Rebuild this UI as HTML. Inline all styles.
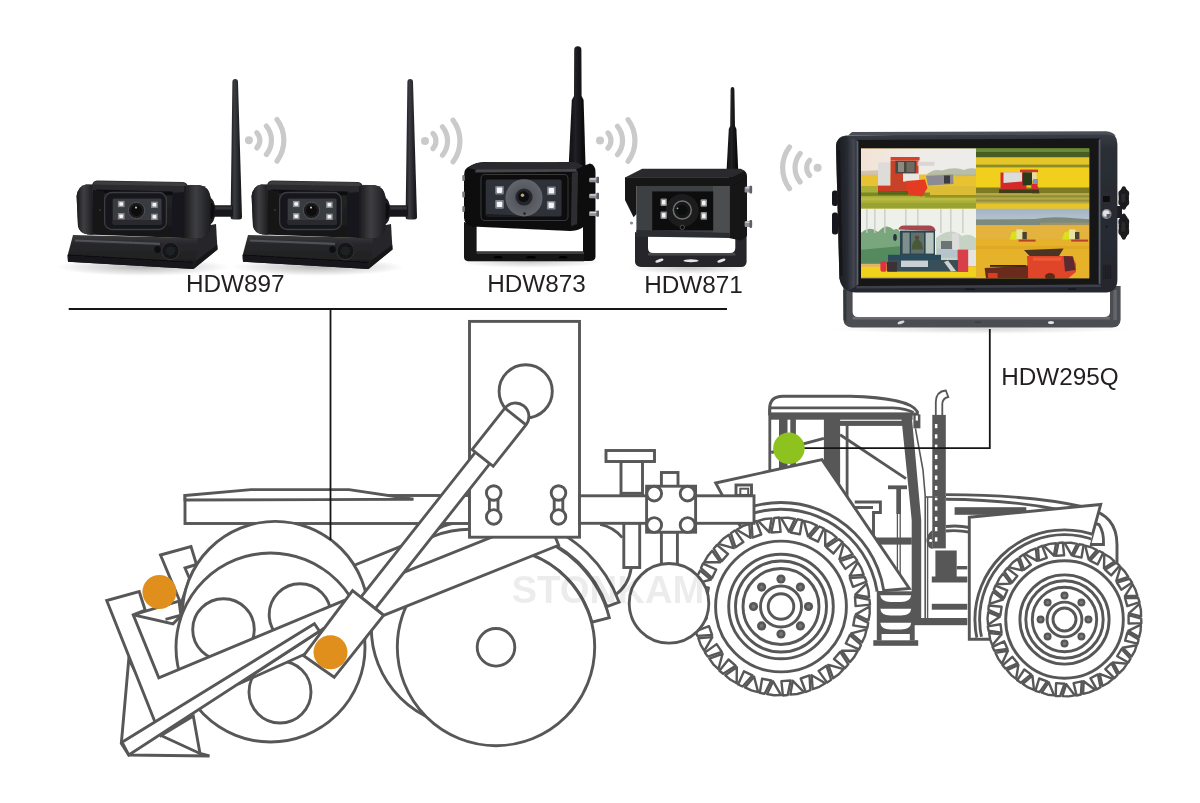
<!DOCTYPE html>
<html><head><meta charset="utf-8"><title>Wireless camera system</title>
<style>
html,body{margin:0;padding:0;background:#fff;}
body{width:1200px;height:803px;overflow:hidden;position:relative;font-family:"Liberation Sans",sans-serif;}
svg{position:absolute;left:0;top:0;display:block}
text{font-family:"Liberation Sans",sans-serif;}
.ln{fill:#fff;stroke:#575757;stroke-width:2.9;stroke-linejoin:miter;stroke-linecap:butt}
.lo{fill:none;stroke:#575757;stroke-width:2.9;stroke-linejoin:miter;stroke-linecap:butt}
.dk{fill:#575757;stroke:none}
.bk{fill:none;stroke:#151515;stroke-width:1.8}
</style></head>
<body>
<svg width="1200" height="803" viewBox="0 0 1200 803">
<!-- defs -->
<defs>
<linearGradient id="gAnt" x1="0" x2="1" y1="0" y2="0"><stop offset="0" stop-color="#1d1d20"/><stop offset="0.35" stop-color="#3a3b40"/><stop offset="0.6" stop-color="#2a2a2e"/><stop offset="1" stop-color="#121214"/></linearGradient>
<linearGradient id="gAnt2" x1="0" x2="1" y1="0" y2="0"><stop offset="0" stop-color="#0c0c0d"/><stop offset="0.4" stop-color="#222224"/><stop offset="1" stop-color="#050506"/></linearGradient>
<linearGradient id="gBarrel" x1="0" x2="0" y1="0" y2="1"><stop offset="0" stop-color="#37383b"/><stop offset="0.18" stop-color="#232426"/><stop offset="0.7" stop-color="#1b1b1d"/><stop offset="1" stop-color="#121213"/></linearGradient>
<linearGradient id="gBase" x1="0" x2="0" y1="0" y2="1"><stop offset="0" stop-color="#3a3b3e"/><stop offset="0.25" stop-color="#28292b"/><stop offset="1" stop-color="#1a1a1c"/></linearGradient>
<linearGradient id="gCapL" x1="0" x2="1" y1="0" y2="0"><stop offset="0" stop-color="#1a1a1c"/><stop offset="0.45" stop-color="#3e3f42"/><stop offset="1" stop-color="#1d1d1f"/></linearGradient>
<linearGradient id="gMonBody" x1="0" x2="0" y1="0" y2="1"><stop offset="0" stop-color="#3a3e46"/><stop offset="0.1" stop-color="#2b2e35"/><stop offset="1" stop-color="#25272d"/></linearGradient>
<linearGradient id="gMonSide" x1="0" x2="1" y1="0" y2="0"><stop offset="0" stop-color="#15161b"/><stop offset="0.55" stop-color="#272a31"/><stop offset="0.88" stop-color="#474b56"/><stop offset="1" stop-color="#30333b"/></linearGradient>
<linearGradient id="gBrk" x1="0" x2="0" y1="0" y2="1"><stop offset="0" stop-color="#5a5c62"/><stop offset="1" stop-color="#3c3e44"/></linearGradient>
<radialGradient id="gLens873" cx="0.5" cy="0.5" r="0.5"><stop offset="0" stop-color="#3a3c42"/><stop offset="0.5" stop-color="#55585f"/><stop offset="1" stop-color="#62656c"/></radialGradient>
<radialGradient id="gShadow" cx="0.5" cy="0.5" r="0.5"><stop offset="0" stop-color="#000" stop-opacity="0.28"/><stop offset="1" stop-color="#000" stop-opacity="0"/></radialGradient>
<filter id="b1" x="-20%" y="-20%" width="140%" height="140%"><feGaussianBlur stdDeviation="0.7"/></filter>
<filter id="b2" x="-20%" y="-20%" width="140%" height="140%"><feGaussianBlur stdDeviation="1.5"/></filter>
<filter id="b3" x="-30%" y="-30%" width="160%" height="160%"><feGaussianBlur stdDeviation="3"/></filter>
<filter id="soft" x="-2%" y="-2%" width="104%" height="104%"><feGaussianBlur stdDeviation="0.45"/></filter>
</defs>
<!-- cams -->
<g filter="url(#soft)"><g id="cam897">
<ellipse cx="143" cy="267" rx="86" ry="9" fill="url(#gShadow)"/>
<path d="M232.4,82 Q232.4,79 235.2,79 Q238,79 238,82 L242,217 Q242,219.5 239,219.5 L233.5,219.5 Q230.5,219.5 230.6,217 Z" fill="url(#gAnt)"/>
<rect x="208" y="205.2" width="25" height="11.6" rx="2" fill="#19191b"/>
<rect x="214" y="206.5" width="18" height="3" fill="#3a3b3e" opacity="0.8"/>
<ellipse cx="209" cy="211" rx="6.5" ry="13.5" fill="#1a1a1c"/>
<ellipse cx="210.5" cy="211" rx="3.8" ry="8" fill="#0c0c0d"/>
<path d="M193.5,269 L217.5,249.5 L216,224 L196,228 Z" fill="#262729"/>
<path d="M193.5,269 L217.5,249.5 L217.3,245 L193.6,262.5 Z" fill="#141415"/>
<path d="M73,235 L198,238 L196,262 L193.5,269 L68,261.8 L67.6,255.5 Z" fill="url(#gBase)"/>
<path d="M67.6,255.2 L193.6,262.6 L193.5,269 L68,261.8 Z" fill="#19191b"/>
<path d="M67.8,255 L193.6,262.4" stroke="#0a0a0b" stroke-width="1" fill="none"/>
<path d="M75,240.5 L160,243.8" stroke="#5a5c60" stroke-width="2.2" fill="none" filter="url(#b1)" opacity="0.8"/>
<path d="M86,184.5 Q78,186 76.6,196 L78,226 Q79.5,233.5 88,234.5 L198,238.5 Q209.5,238 210.5,226 L210.5,197 Q209,186.5 199,185 Z" fill="url(#gBarrel)"/>
<path d="M97,180.6 Q93,181 92,185 L92.5,190 L186,192.5 L187.5,186 Q187,182.5 183,182 Z" fill="#2a2b2d"/>
<path d="M96,181.2 L184,182.6 L186,186 L93,184.5 Z" fill="#3c3d40" filter="url(#b1)"/>
<path d="M96,189.5 L173,191.5 L173,195.5 L97,193 Z" fill="#0f0f10"/>
<path d="M86,184.5 Q78,186 76.6,196 L78,226 Q79.5,233.5 88,234.5 L93,234.8 L92,184.8 Z" fill="url(#gCapL)"/>
<path d="M184,186 L199,185 Q209,186.5 210.5,197 L210.5,226 Q209.5,238 198,238.5 L184,238 Z" fill="url(#gCapL)"/>
<path d="M172,193 L184,192 L184,237 L172,236 Z" fill="#19191b"/>
<path d="M93,190 L104,191 L104,232 L93,233 Z" fill="#161617"/>
<rect x="104.6" y="192.5" width="61.8" height="37" rx="7.5" fill="#17171a" stroke="#3b3c40" stroke-width="1.3"/>
<rect x="112.6" y="198.6" width="49" height="25.8" rx="1.5" fill="#393a3f"/>
<rect x="112.6" y="220" width="49" height="4.4" fill="#2a2b2f"/>
<circle cx="136.5" cy="210.4" r="8.2" fill="#1c1c1f" stroke="#50525a" stroke-width="1"/>
<circle cx="136.5" cy="210.6" r="5.3" fill="#09090b"/>
<circle cx="136" cy="207.6" r="1.1" fill="#e2b0b0"/>
<rect x="117.9" y="200.9" width="6.6" height="6.2" fill="#8d8f94" filter="url(#b1)"/><rect x="119.3" y="202.3" width="3.8" height="3.4" rx="0.8" fill="#f4f4f4"/>
<rect x="117.9" y="213.1" width="6.6" height="6.2" fill="#8d8f94" filter="url(#b1)"/><rect x="119.3" y="214.5" width="3.8" height="3.4" rx="0.8" fill="#f4f4f4"/>
<rect x="151.1" y="201.7" width="6.6" height="6.2" fill="#8d8f94" filter="url(#b1)"/><rect x="152.5" y="203.1" width="3.8" height="3.4" rx="0.8" fill="#f4f4f4"/>
<rect x="151.1" y="213.7" width="6.6" height="6.2" fill="#8d8f94" filter="url(#b1)"/><rect x="152.5" y="215.1" width="3.8" height="3.4" rx="0.8" fill="#f4f4f4"/>
<circle cx="100" cy="210" r="0.9" fill="#3a3a3c"/>
<circle cx="157.5" cy="249.5" r="3.4" fill="#111113"/>
<circle cx="170.5" cy="251" r="8.6" fill="#121214" stroke="#2f3033" stroke-width="1.2"/>
<circle cx="170.5" cy="251" r="4.8" fill="#1f2022"/>
</g><use href="#cam897" x="175" y="0"/><g id="cam873">
<ellipse cx="530" cy="262" rx="72" ry="6" fill="url(#gShadow)" opacity="0.7"/>
<path d="M574.2,50 Q574.2,46.3 577.8,46.3 Q581.4,46.3 581.4,50 L581.6,96 L583.6,100 L585.6,168 L568.6,168 L571.8,100 L574,96 Z" fill="url(#gAnt2)"/>
<path d="M583,166 L590,163.5 Q595.5,165 595.5,172 L595.5,257 Q595,261 590,261 L583,261 Z" fill="#101011"/>
<path d="M464,222 L476.6,226 L476.6,251.5 L584,251.5 L584,261.2 L468,261.2 Q464,261 464,257 Z" fill="#151516"/>
<path d="M476.6,251.6 L584,251.6 L584,254 L476.6,254 Z" fill="#3c3d3f" filter="url(#b1)"/>
<ellipse cx="498.0" cy="257.4" rx="4.5" ry="1.4" fill="#040404"/>
<ellipse cx="531.0" cy="257.4" rx="5.0" ry="1.4" fill="#040404"/>
<ellipse cx="563.0" cy="257.4" rx="4.5" ry="1.4" fill="#040404"/>
<path d="M470,166 Q464,168 464,176 L464,218 Q464.5,225 472,226.5 L570,231 Q584,230.5 586,222 L588,172 Q587,164 580,163.2 L484,162 Q474,163 470,166 Z" fill="#0e0e0f"/>
<path d="M482,162.3 L571,162 Q580,162.5 583,166 L575,170 L478,170.5 L468.5,168 Q474,163 482,162.3 Z" fill="#2c2c2e"/>
<path d="M476,169.6 L576,169 L577,171.8 L475,172.4 Z" fill="#454648" filter="url(#b1)"/>
<rect x="481" y="174.5" width="87" height="46" rx="4" fill="#0b0b0c" stroke="#37383b" stroke-width="1.1"/>
<rect x="485.6" y="179.6" width="76" height="37" rx="2" fill="#2d3138"/>
<path d="M485.6,214 L561.6,217.5 L561.6,216.6 Q561.6,216.6 561.6,216.6 L485.6,216.6 Z" fill="#1a1c20"/>
<circle cx="524" cy="197.8" r="18.6" fill="url(#gLens873)"/>
<path d="M505.6,197.8 A18.6,18.6 0 0 0 542.6,197.8 L542.6,216.6 L505.6,216.6 Z" fill="#2d3138" opacity="0" />
<circle cx="524" cy="197" r="8.6" fill="#26282c"/>
<circle cx="523.6" cy="196.6" r="5.6" fill="#101113"/>
<circle cx="522.5" cy="195.3" r="1.7" fill="#c9a464" filter="url(#b1)"/>
<circle cx="524.5" cy="213.5" r="1.2" fill="#1c1d20"/>
<rect x="495.2" y="185.9" width="8.6" height="8.6" rx="1" fill="#7d828c" filter="url(#b1)"/>
<rect x="496.8" y="187.5" width="5.4" height="5.4" rx="0.8" fill="#f6f6f6"/>
<rect x="495.2" y="200.1" width="8.6" height="8.6" rx="1" fill="#7d828c" filter="url(#b1)"/>
<rect x="496.8" y="201.7" width="5.4" height="5.4" rx="0.8" fill="#f6f6f6"/>
<rect x="547.1" y="186.5" width="8.6" height="8.6" rx="1" fill="#7d828c" filter="url(#b1)"/>
<rect x="548.7" y="188.1" width="5.4" height="5.4" rx="0.8" fill="#f6f6f6"/>
<rect x="546.9" y="200.9" width="8.6" height="8.6" rx="1" fill="#7d828c" filter="url(#b1)"/>
<rect x="548.5" y="202.5" width="5.4" height="5.4" rx="0.8" fill="#f6f6f6"/>
<path d="M572,173 L578,171.5 L577,224 L571,226 Z" fill="#2e2f31" filter="url(#b1)"/>
<rect x="589.0" y="177.7" width="10.0" height="4.6" rx="1.2" fill="#8e9096"/><rect x="590.0" y="178.3" width="7.0" height="1.3" fill="#d9dade"/><rect x="596.4" y="176.8" width="2.6" height="6.4" rx="0.8" fill="#5e6066"/>
<rect x="589.0" y="193.7" width="10.0" height="4.6" rx="1.2" fill="#8e9096"/><rect x="590.0" y="194.3" width="7.0" height="1.3" fill="#d9dade"/><rect x="596.4" y="192.8" width="2.6" height="6.4" rx="0.8" fill="#5e6066"/>
<rect x="589.0" y="211.3" width="10.0" height="4.6" rx="1.2" fill="#8e9096"/><rect x="590.0" y="211.9" width="7.0" height="1.3" fill="#d9dade"/><rect x="596.4" y="210.4" width="2.6" height="6.4" rx="0.8" fill="#5e6066"/>
<rect x="462.3" y="175.0" width="2.6" height="6" rx="1" fill="#77797e"/>
<rect x="462.3" y="191.5" width="2.6" height="6" rx="1" fill="#77797e"/>
<rect x="462.3" y="206.0" width="2.6" height="6" rx="1" fill="#77797e"/>
</g><g id="cam871">
<ellipse cx="690" cy="268" rx="62" ry="6" fill="url(#gShadow)" opacity="0.8"/>
<path d="M730.6,90 Q730.6,87 732.5,87 Q734.4,87 734.4,90 L735,126 L736.4,129 L738.2,170 L726.6,170 L728.8,129 L730.2,126 Z" fill="url(#gAnt2)"/>
<path d="M635,232 L648,236 L648,248 Q648,253 653,253 L730,253 Q735.3,253 735.3,248 L735.3,236 L746.6,232 L746.6,262 Q746,267 741,267 L641,267 Q635.5,266.5 635,262 Z" fill="#26272c"/>
<path d="M648,253 L735.3,253 L735.3,255.4 L648,255.4 Z" fill="#44464c" filter="url(#b1)"/>
<ellipse cx="659.4" cy="260.6" rx="4.2" ry="1.5" fill="#e6e6e6" transform="rotate(-18 659.4 260.6)"/>
<ellipse cx="691" cy="260.8" rx="7.6" ry="1.5" fill="#e6e6e6"/>
<ellipse cx="721.4" cy="260.6" rx="4.2" ry="1.5" fill="#e6e6e6" transform="rotate(-18 721.4 260.6)"/>
<path d="M729,170.5 L742,169.5 Q746.8,171 747,176 L747,236 L741,240.5 L729,238 Z" fill="#131315"/>
<rect x="636.4" y="184" width="93.4" height="52.4" fill="#3e3f42"/>
<rect x="713" y="186" width="16.8" height="50" fill="#4c4d50"/>
<path d="M636.4,230 L729.8,233 L729.8,238 L636.4,236.4 Z" fill="#2c2d30"/>
<rect x="652.2" y="191.5" width="61" height="38.8" fill="#0a0a0b"/>
<circle cx="682.3" cy="210.4" r="16.5" fill="#1d1d1f"/>
<circle cx="682.3" cy="210.1" r="9" fill="#141416" stroke="#707276" stroke-width="1.5"/>
<circle cx="682.3" cy="210.1" r="5" fill="#0a0a0b"/>
<circle cx="677.5" cy="208.3" r="0.9" fill="#7fc08a"/>
<circle cx="682.3" cy="227.3" r="2.2" fill="#0c0c0d" stroke="#505256" stroke-width="0.9"/>
<rect x="660.5" y="198.5" width="6.4" height="7.6" rx="1" fill="#8b8d92" filter="url(#b1)"/>
<rect x="661.9" y="200.0" width="3.6" height="4.6" rx="0.8" fill="#f2f2f2"/>
<rect x="660.5" y="211.4" width="6.4" height="7.6" rx="1" fill="#8b8d92" filter="url(#b1)"/>
<rect x="661.9" y="212.9" width="3.6" height="4.6" rx="0.8" fill="#f2f2f2"/>
<rect x="700.6" y="199.2" width="6.4" height="7.6" rx="1" fill="#8b8d92" filter="url(#b1)"/>
<rect x="702.0" y="200.7" width="3.6" height="4.6" rx="0.8" fill="#f2f2f2"/>
<rect x="700.6" y="212.1" width="6.4" height="7.6" rx="1" fill="#8b8d92" filter="url(#b1)"/>
<rect x="702.0" y="213.6" width="3.6" height="4.6" rx="0.8" fill="#f2f2f2"/>
<path d="M625,177.4 L642.2,168.7 L741,168.7 L744,171.5 L732.6,177.4 Z" fill="#2b2c2f"/>
<path d="M625,177.2 L732.6,177.2 L744,171.5 L744,180 L732.6,186 L636.4,186 L636.4,214 L633.6,217.3 L625,200 Z" fill="#121214"/>
<rect x="744.6" y="186.6" width="7.5" height="6.0" rx="1.2" fill="#8e9096"/><rect x="745.6" y="187.2" width="4.5" height="1.3" fill="#d9dade"/><rect x="749.5" y="185.7" width="2.6" height="7.8" rx="0.8" fill="#5e6066"/>
<rect x="744.6" y="221.0" width="7.5" height="6.0" rx="1.2" fill="#8e9096"/><rect x="745.6" y="221.6" width="4.5" height="1.3" fill="#d9dade"/><rect x="749.5" y="220.1" width="2.6" height="7.8" rx="0.8" fill="#5e6066"/>
<circle cx="631.5" cy="223" r="1.6" fill="#8a8c90"/>
</g></g>
<!-- monitor -->
<defs>
<clipPath id="cq1"><rect x="861" y="148.6" width="115" height="60.2"/></clipPath>
<clipPath id="cq2"><rect x="976" y="148.6" width="113.2" height="60.2"/></clipPath>
<clipPath id="cq3"><rect x="861" y="208.8" width="115" height="68.8"/></clipPath>
<clipPath id="cq4"><rect x="976" y="208.8" width="113.2" height="69.4"/></clipPath>
<linearGradient id="q1sky" x1="0" x2="1" y1="0" y2="0"><stop offset="0" stop-color="#f3e2d4"/><stop offset="0.5" stop-color="#efece8"/><stop offset="1" stop-color="#ececea"/></linearGradient>
<linearGradient id="q4sky" x1="0" x2="0" y1="0" y2="1"><stop offset="0" stop-color="#9db2c6"/><stop offset="1" stop-color="#b6c0cc"/></linearGradient>
<filter id="pb" x="-5%" y="-5%" width="110%" height="110%"><feGaussianBlur stdDeviation="0.55"/></filter>
</defs>
<g filter="url(#soft)">
<ellipse cx="980" cy="329" rx="150" ry="5" fill="url(#gShadow)" opacity="0.55"/>
<path d="M843.3,280 L852.6,280 L852.6,312 Q852.8,317 858,317 L1104,317 Q1110,317 1110,312 L1110,286 L1120.6,286 L1120.6,320 Q1120,327.4 1112,327.6 L852,327.6 Q843.6,327 843.3,319 Z" fill="#4b4d53"/>
<path d="M852.6,317 L1110,317 L1110,319.6 L852.6,319.6 Z" fill="#6a6c72"/>
<rect x="1113.4" y="290" width="3.4" height="30" fill="#63656b"/>
<path d="M843.3,290 L846.4,290 L846.4,322 L843.8,320 Z" fill="#33353a"/>
<ellipse cx="901" cy="322.4" rx="3.6" ry="1.4" fill="#d8d8da" transform="rotate(-20 901 322.4)"/>
<ellipse cx="1051" cy="322.4" rx="3" ry="1.5" fill="#e4e4e6"/>
<rect x="975" y="321.6" width="6" height="1.2" fill="#37393e"/>
<ellipse cx="1123.8" cy="198.0" rx="5.2" ry="10.6" fill="#141416"/><ellipse cx="1127.0" cy="202.2" rx="2.2" ry="3.2" fill="#1b1b1e"/><ellipse cx="1123.8" cy="206.5" rx="2.2" ry="3.2" fill="#1b1b1e"/><ellipse cx="1120.6" cy="202.2" rx="2.2" ry="3.2" fill="#1b1b1e"/><ellipse cx="1120.6" cy="193.8" rx="2.2" ry="3.2" fill="#1b1b1e"/><ellipse cx="1123.8" cy="189.5" rx="2.2" ry="3.2" fill="#1b1b1e"/><ellipse cx="1127.0" cy="193.8" rx="2.2" ry="3.2" fill="#1b1b1e"/><ellipse cx="1123.3" cy="198.0" rx="2.3" ry="4.8" fill="#2a2a2e"/>
<ellipse cx="1123.8" cy="226.6" rx="5.2" ry="12.0" fill="#141416"/><ellipse cx="1127.0" cy="231.4" rx="2.2" ry="3.6" fill="#1b1b1e"/><ellipse cx="1123.8" cy="236.2" rx="2.2" ry="3.6" fill="#1b1b1e"/><ellipse cx="1120.6" cy="231.4" rx="2.2" ry="3.6" fill="#1b1b1e"/><ellipse cx="1120.6" cy="221.8" rx="2.2" ry="3.6" fill="#1b1b1e"/><ellipse cx="1123.8" cy="217.0" rx="2.2" ry="3.6" fill="#1b1b1e"/><ellipse cx="1127.0" cy="221.8" rx="2.2" ry="3.6" fill="#1b1b1e"/><ellipse cx="1123.3" cy="226.6" rx="2.3" ry="5.4" fill="#2a2a2e"/>
<rect x="1117" y="206" width="5" height="12" fill="#1c1c20"/>
<rect x="832" y="190.4" width="6" height="15.6" rx="2.5" fill="#17181c"/>
<rect x="832" y="212.6" width="6" height="22" rx="2.5" fill="#17181c"/>
<path d="M846,135.4 L1107,133 Q1117.4,133.4 1117.4,144 L1117.4,280 Q1117,292 1106,292.6 L856,292.6 Q842,292 839.4,278 L836,146 Q836.4,136 846,135.4 Z" fill="url(#gMonBody)"/>
<path d="M848,135.4 L852,132 L1106,131.2 Q1113,131.6 1115.6,136 L1107,134.6 Z" fill="#4c5058"/>
<path d="M846,136 L856.4,140 L856.4,286 L848,291 Q841,288 839.4,278 L836,146 Q836.4,137 846,136 Z" fill="url(#gMonSide)" opacity="0.9"/>
<path d="M837,150 L840,150 L842.6,276 L840,276 Z" fill="#0f1014" opacity="0.7"/>
<path d="M856.4,140 L1100.6,138.6 L1100.6,284.6 L856.4,286 Z" fill="#121318"/>
<path d="M856.4,140 L858.4,141.6 L858.4,284.4 L856.4,286 Z" fill="#5a5f6b"/>
<path d="M1098.6,140 L1100.6,138.6 L1100.6,284.6 L1098.6,283.4 Z" fill="#565b67"/>
<path d="M856.4,286 L1100.6,284.6 L1100.6,287 L856.4,288.4 Z" fill="#3c4048"/>
<rect x="861" y="148.6" width="228.2" height="129.6" fill="#e8c830"/>
<g clip-path="url(#cq1)"><g filter="url(#pb)"><rect x="858" y="146" width="120" height="66" fill="url(#q1sky)"/><rect x="858" y="174.5" width="120" height="20" fill="#e9c233"/><path d="M926,175.6 Q932,168.5 942,170.5 Q955,166.5 964,170 Q970,167 978,169 L978,176 L926,176.5 Z" fill="#a9b39b" opacity="0.8"/><path d="M861,171 L884,170 L884,175.6 L861,175.6 Z" fill="#c9b9a5" opacity="0.8"/><rect x="858" y="186" width="72" height="24" fill="#a9b036"/><rect x="925" y="196" width="55" height="14" fill="#a9b036"/><rect x="925" y="186" width="55" height="11" fill="#dcbc36"/><rect x="858" y="192.5" width="72" height="3.5" fill="#6f7d22" opacity="0.8"/><rect x="925" y="195" width="55" height="3" fill="#7f8a26" opacity="0.8"/><rect x="858" y="197.5" width="120" height="3" fill="#c2bf48" opacity="0.7"/><rect x="858" y="203" width="120" height="6" fill="#93a02f" opacity="0.8"/><rect x="878" y="162.4" width="12.5" height="23.6" fill="#dddcd8"/><rect x="878" y="185.6" width="30" height="5.6" fill="#cf3a20"/><rect x="890.5" y="160.5" width="28" height="31" fill="#c8432a"/><rect x="895.4" y="160.8" width="20.6" height="12.6" fill="#4a4640"/><rect x="898" y="162" width="6" height="10" fill="#8c8a80"/><rect x="906.5" y="162" width="8" height="10" fill="#6e6a60"/><rect x="890.6" y="157" width="29" height="3.4" fill="#d8402a"/><rect x="903" y="173.5" width="16" height="8" fill="#e8e6e2"/><path d="M906,181 L925,179.5 L927.5,188 L922,196.5 L907,194 Z" fill="#e53a22"/><rect x="917.5" y="161.8" width="17" height="4" fill="#d6d4d0" opacity="0.9"/><path d="M926,176 L953,174.5 L953.5,184 L928,185.5 Z" fill="#8c8a92"/><rect x="944" y="175.5" width="6" height="8" fill="#3a3a40"/><rect x="878" y="191" width="30" height="3.6" fill="#4a5a18" opacity="0.8"/></g></g>
<g clip-path="url(#cq2)"><g filter="url(#pb)"><rect x="974" y="146" width="118" height="66" fill="#f0d01e"/><rect x="974" y="146" width="118" height="6.4" fill="#5f8f3c"/><rect x="974" y="152" width="118" height="5.6" fill="#4c5c20"/><rect x="974" y="157.4" width="118" height="7.4" fill="#e4c62a"/><rect x="974" y="164.6" width="118" height="2.8" fill="#8c8c2a"/><rect x="974" y="187.5" width="118" height="5.6" fill="#7c7a22"/><rect x="974" y="193" width="118" height="11" fill="#b4aa44"/><rect x="974" y="195.4" width="118" height="2" fill="#8e8a38"/><rect x="974" y="199.6" width="118" height="2" fill="#96903a"/><rect x="974" y="203.6" width="118" height="7" fill="#e6c42a"/><rect x="1000.5" y="172.5" width="26" height="18" fill="#d22c2c"/><path d="M1003.5,172.3 L1022,172.3 L1022,181.6 L1003.5,183 Z" fill="#dcdcda"/><rect x="1020" y="169.6" width="18" height="2.6" fill="#d63030"/><rect x="1022.6" y="172.3" width="9.6" height="13" fill="#2c3a1c"/><rect x="1032" y="172.5" width="4.6" height="8" fill="#e4dcb0"/><rect x="1033" y="179" width="5" height="6" fill="#8090c0"/><path d="M1031,184 L1037,184 L1040,193.4 L1032,193.4 Z" fill="#da2c30"/><rect x="999" y="189.5" width="40" height="3.6" fill="#3c3c18"/></g></g>
<g clip-path="url(#cq3)"><g filter="url(#pb)"><rect x="858" y="207" width="120" height="73" fill="#eef0ea"/><path d="M858,236 Q868,224 878,232 Q886,222 894,230 Q900,226 902,240 L902,266 L858,266 Z" fill="#7aa67e"/><path d="M858,250 L902,246 L902,266 L858,266 Z" fill="#558a5e"/><path d="M936,238 Q950,226 962,236 Q970,232 978,240 L978,262 L936,262 Z" fill="#c6d2c4"/><rect x="866" y="209" width="1.6" height="24" fill="#c8ccc4" opacity="0.8"/><rect x="874" y="209" width="1.6" height="24" fill="#c8ccc4" opacity="0.8"/><rect x="884" y="209" width="1.6" height="24" fill="#c8ccc4" opacity="0.8"/><rect x="905" y="209" width="1.6" height="24" fill="#c8ccc4" opacity="0.8"/><rect x="917" y="209" width="1.6" height="24" fill="#c8ccc4" opacity="0.8"/><rect x="940" y="209" width="1.6" height="24" fill="#c8ccc4" opacity="0.8"/><rect x="950" y="209" width="1.6" height="24" fill="#c8ccc4" opacity="0.8"/><rect x="962" y="209" width="1.6" height="24" fill="#c8ccc4" opacity="0.8"/><rect x="858" y="263.8" width="120" height="3.4" fill="#e6b268"/><rect x="858" y="266.8" width="120" height="12" fill="#f0d21e"/><rect x="937" y="248.6" width="21.5" height="9" fill="#b8c4cc"/><path d="M952,233.5 L959,233 L959.4,250 L952.6,250 Z" fill="#dcdcda"/><rect x="941" y="241" width="11" height="8" fill="#6a7478"/><rect x="958" y="250" width="19" height="16" fill="#e4e4e2"/><rect x="957.6" y="249.6" width="10.6" height="22.4" fill="#d8404a"/><path d="M898.4,229.5 Q899,225.6 904,225.4 L930,225.6 Q935,226.5 935.6,231 Z" fill="#a8444e"/><rect x="900" y="230.6" width="35" height="25" fill="#2c4450"/><rect x="902.6" y="232.6" width="7" height="21" fill="#7f8f8b"/><rect x="911" y="232.6" width="13" height="21" fill="#5f6f6b"/><rect x="925.6" y="232.6" width="8" height="21" fill="#b9c6c0"/><path d="M911.6,249.6 Q912,240.5 917,239.6 Q922.6,240.4 923,249.6 Z" fill="#485838"/><circle cx="917" cy="237.8" r="2.2" fill="#5a4a3a"/><ellipse cx="895" cy="237.4" rx="1.8" ry="3.4" fill="#26303a"/><rect x="888" y="254.8" width="53" height="5.6" fill="#2c4c5c"/><rect x="888" y="260" width="70" height="11.6" fill="#39505a"/><rect x="901" y="260.6" width="27" height="6.4" fill="#c9d1d5"/><rect x="880.4" y="261.2" width="6.2" height="10.6" rx="2" fill="#e03040"/><rect x="887" y="262" width="10" height="9.6" fill="#3a3036"/><path d="M944,262 L948,260.6 L956,271 L951,271.6 Z" fill="#d0d0cc"/></g></g>
<g clip-path="url(#cq4)"><g filter="url(#pb)"><rect x="974" y="207" width="118" height="73" fill="#e6b22a"/><rect x="974" y="207" width="118" height="12.4" fill="url(#q4sky)"/><path d="M974,219.6 L1035,219 Q1050,216.5 1065,217.6 L1092,219.6 L1092,225.4 L974,225.4 Z" fill="#7c8a7e"/><rect x="1040" y="222.6" width="52" height="2.6" fill="#a89464" opacity="0.8"/><rect x="974" y="225" width="118" height="14" fill="#e2b240" opacity="0.9"/><rect x="974" y="246" width="118" height="3" fill="#d8a020" opacity="0.5"/><path d="M1009.4,239.6 L1012.0,232 L1017.4,231 L1016.6,239.8 Z" fill="#d9e01e"/><rect x="1016.4" y="229.4" width="6.4" height="9.6" fill="#e8e2a4"/><rect x="1022.4" y="232" width="4.4" height="7.4" fill="#4a4230"/><rect x="1018.6" y="239.6" width="17" height="2" fill="#b8402c"/><path d="M1062.0,239.6 L1064.6,232 L1070.0,231 L1069.2,239.8 Z" fill="#d9e01e"/><rect x="1069.0" y="229.4" width="6.4" height="9.6" fill="#e8e2a4"/><rect x="1075.0" y="232" width="4.4" height="7.4" fill="#4a4230"/><rect x="1071.2" y="239.6" width="17" height="2" fill="#b8402c"/><path d="M1024,250 L1063.6,248.6 L1059,256 L1030,256.4 Z" fill="#4c3420"/><path d="M1027,256 L1072,256 L1076,264 L1076,272 L1068,278.6 L1028,278.6 Z" fill="#e0452a"/><rect x="1033" y="257.6" width="28" height="3" fill="#ee5a38"/><path d="M1063.6,256 L1073,256.6 L1075.6,270 L1065,271.6 Z" fill="#5c2c32"/><ellipse cx="1050" cy="276.6" rx="5" ry="3.6" fill="#5a2a1a"/><path d="M984.6,268 L1028,265.6 L1028,278.6 L986,278.6 Z" fill="#6a2c1a"/><rect x="988" y="273" width="9.6" height="5.6" fill="#e03a20"/><rect x="990" y="265" width="36" height="1.8" fill="#3c2418"/></g></g>
<rect x="861" y="277.4" width="115" height="1" fill="#8a86b8" opacity="0.7"/>
<rect x="1103" y="196" width="6.8" height="6" fill="#0c0d10"/>
<circle cx="1106.6" cy="214" r="4.9" fill="#8d9096"/>
<circle cx="1106.2" cy="213.4" r="3.2" fill="#e2e3e6"/>
<path d="M1106.6,214 L1110.6,214 A4,4 0 0 1 1106.6,218 Z" fill="#55585e"/>
<circle cx="1106.6" cy="226.6" r="0.9" fill="#0f1013"/>
<circle cx="1103.8" cy="266.0" r="0.55" fill="#0d0e11"/>
<circle cx="1103.8" cy="268.0" r="0.55" fill="#0d0e11"/>
<circle cx="1103.8" cy="270.0" r="0.55" fill="#0d0e11"/>
<circle cx="1103.8" cy="272.0" r="0.55" fill="#0d0e11"/>
<circle cx="1103.8" cy="274.0" r="0.55" fill="#0d0e11"/>
<circle cx="1103.8" cy="276.0" r="0.55" fill="#0d0e11"/>
<circle cx="1103.8" cy="278.0" r="0.55" fill="#0d0e11"/>
<circle cx="1105.5" cy="266.0" r="0.55" fill="#0d0e11"/>
<circle cx="1105.5" cy="268.0" r="0.55" fill="#0d0e11"/>
<circle cx="1105.5" cy="270.0" r="0.55" fill="#0d0e11"/>
<circle cx="1105.5" cy="272.0" r="0.55" fill="#0d0e11"/>
<circle cx="1105.5" cy="274.0" r="0.55" fill="#0d0e11"/>
<circle cx="1105.5" cy="276.0" r="0.55" fill="#0d0e11"/>
<circle cx="1105.5" cy="278.0" r="0.55" fill="#0d0e11"/>
<circle cx="1107.2" cy="266.0" r="0.55" fill="#0d0e11"/>
<circle cx="1107.2" cy="268.0" r="0.55" fill="#0d0e11"/>
<circle cx="1107.2" cy="270.0" r="0.55" fill="#0d0e11"/>
<circle cx="1107.2" cy="272.0" r="0.55" fill="#0d0e11"/>
<circle cx="1107.2" cy="274.0" r="0.55" fill="#0d0e11"/>
<circle cx="1107.2" cy="276.0" r="0.55" fill="#0d0e11"/>
<circle cx="1107.2" cy="278.0" r="0.55" fill="#0d0e11"/>
<circle cx="1108.9" cy="266.0" r="0.55" fill="#0d0e11"/>
<circle cx="1108.9" cy="268.0" r="0.55" fill="#0d0e11"/>
<circle cx="1108.9" cy="270.0" r="0.55" fill="#0d0e11"/>
<circle cx="1108.9" cy="272.0" r="0.55" fill="#0d0e11"/>
<circle cx="1108.9" cy="274.0" r="0.55" fill="#0d0e11"/>
<circle cx="1108.9" cy="276.0" r="0.55" fill="#0d0e11"/>
<circle cx="1108.9" cy="278.0" r="0.55" fill="#0d0e11"/>
<circle cx="1110.6" cy="266.0" r="0.55" fill="#0d0e11"/>
<circle cx="1110.6" cy="268.0" r="0.55" fill="#0d0e11"/>
<circle cx="1110.6" cy="270.0" r="0.55" fill="#0d0e11"/>
<circle cx="1110.6" cy="272.0" r="0.55" fill="#0d0e11"/>
<circle cx="1110.6" cy="274.0" r="0.55" fill="#0d0e11"/>
<circle cx="1110.6" cy="276.0" r="0.55" fill="#0d0e11"/>
<circle cx="1110.6" cy="278.0" r="0.55" fill="#0d0e11"/>
<rect x="965" y="288.6" width="10" height="1.2" fill="#15161a"/><rect x="1068" y="288.6" width="8" height="1.2" fill="#15161a"/>
</g>
<!-- lineart -->
<defs><clipPath id="clipArch"><rect x="754" y="480" width="166" height="111"/></clipPath><clipPath id="clipArchF"><polygon points="969.3,517 1100.7,504.5 1086,558 1064,620 969.3,639.3"/></clipPath></defs>
<g id="lineart">
<path class="lo" d="M946,494.6 C1000,494.8 1050,499 1084,507 C1108,513 1117,525 1117,545 L1117,600" />
<path class="lo" d="M946,499.3 C990,499.6 1030,504 1058,509.5" />
<path class="lo" d="M1095,523.5 L1099,524.5 Q1104,532 1103.5,544.5 L1090,544.5" />
<path class="lo" d="M946,526.5 Q958,525 969.3,527.5" />
<path class="lo" d="M946,531 Q958,529.8 969.3,532.2" />
<rect class="dk" x="954.6" y="507.2" width="71.7" height="7.6" />
<polygon class="ln" points="969.3,517.2 1100.7,504.5 1089.6,545.0 1040.0,600.0 1000.0,639.3 969.3,639.3" />
<g clip-path="url(#clipArchF)">
<circle class="ln" cx="1064.5" cy="619.5" r="89.6" />
<circle class="ln" cx="1064.5" cy="619.5" r="84.9" />
</g>
<circle class="ln" cx="1064.5" cy="619.5" r="77.0" style="stroke:none"/>
<polygon class="ln" points="1064.5,542.9 1070.8,542.8 1077.0,543.9 1071.6,555.2" style="stroke-width:2.4;stroke-linejoin:round"/>
<polygon class="ln" points="1079.3,544.2 1083.6,544.9 1081.5,557.6 1073.2,555.9" style="stroke-width:2.4;stroke-linejoin:round"/>
<polygon class="ln" points="1085.2,545.7 1091.3,547.3 1096.9,550.1 1088.7,559.5" style="stroke-width:2.4;stroke-linejoin:round"/>
<polygon class="ln" points="1099.1,551.0 1103.1,552.9 1097.6,564.5 1090.1,560.6" style="stroke-width:2.4;stroke-linejoin:round"/>
<polygon class="ln" points="1104.3,554.0 1109.8,557.2 1114.5,561.4 1104.0,568.2" style="stroke-width:2.4;stroke-linejoin:round"/>
<polygon class="ln" points="1116.3,562.8 1119.6,565.7 1111.2,575.4 1105.0,569.7" style="stroke-width:2.4;stroke-linejoin:round"/>
<polygon class="ln" points="1120.5,567.2 1124.9,571.7 1128.3,577.0 1116.3,580.8" style="stroke-width:2.4;stroke-linejoin:round"/>
<polygon class="ln" points="1129.6,578.9 1132.1,582.6 1121.3,589.7 1116.9,582.5" style="stroke-width:2.4;stroke-linejoin:round"/>
<polygon class="ln" points="1132.5,584.3 1135.5,589.8 1137.4,595.8 1124.9,596.2" style="stroke-width:2.4;stroke-linejoin:round"/>
<polygon class="ln" points="1138.2,598.0 1139.5,602.2 1127.3,606.1 1125.0,598.0" style="stroke-width:2.4;stroke-linejoin:round"/>
<polygon class="ln" points="1139.5,603.9 1140.9,610.1 1141.1,616.4 1128.9,613.3" style="stroke-width:2.4;stroke-linejoin:round"/>
<polygon class="ln" points="1141.2,618.7 1141.4,623.1 1128.6,623.5 1128.6,615.1" style="stroke-width:2.4;stroke-linejoin:round"/>
<polygon class="ln" points="1140.9,624.7 1140.6,631.0 1139.1,637.1 1128.2,630.9" style="stroke-width:2.4;stroke-linejoin:round"/>
<polygon class="ln" points="1138.6,639.4 1137.6,643.7 1125.1,640.7 1127.4,632.6" style="stroke-width:2.4;stroke-linejoin:round"/>
<polygon class="ln" points="1136.7,645.2 1134.7,651.1 1131.5,656.6 1122.7,647.7" style="stroke-width:2.4;stroke-linejoin:round"/>
<polygon class="ln" points="1130.5,658.7 1128.4,662.5 1117.2,656.2 1121.5,649.0" style="stroke-width:2.4;stroke-linejoin:round"/>
<polygon class="ln" points="1127.1,663.7 1123.6,668.9 1119.0,673.3 1113.0,662.4" style="stroke-width:2.4;stroke-linejoin:round"/>
<polygon class="ln" points="1117.5,675.0 1114.4,678.2 1105.3,669.1 1111.4,663.3" style="stroke-width:2.4;stroke-linejoin:round"/>
<polygon class="ln" points="1112.9,678.9 1108.0,683.0 1102.5,686.0 1099.6,673.9" style="stroke-width:2.4;stroke-linejoin:round"/>
<polygon class="ln" points="1100.5,687.2 1096.7,689.4 1090.4,678.2 1097.9,674.4" style="stroke-width:2.4;stroke-linejoin:round"/>
<polygon class="ln" points="1095.0,689.8 1089.3,692.4 1083.1,693.8 1083.7,681.3" style="stroke-width:2.4;stroke-linejoin:round"/>
<polygon class="ln" points="1080.9,694.5 1076.6,695.5 1073.6,683.1 1081.8,681.3" style="stroke-width:2.4;stroke-linejoin:round"/>
<polygon class="ln" points="1074.9,695.4 1068.7,696.4 1062.4,696.1 1066.3,684.2" style="stroke-width:2.4;stroke-linejoin:round"/>
<polygon class="ln" points="1060.1,696.1 1055.7,696.0 1056.1,683.1 1064.5,683.7" style="stroke-width:2.4;stroke-linejoin:round"/>
<polygon class="ln" points="1054.1,695.4 1047.8,694.7 1041.8,692.7 1048.7,682.3" style="stroke-width:2.4;stroke-linejoin:round"/>
<polygon class="ln" points="1039.6,692.1 1035.4,690.8 1039.2,678.5 1047.2,681.3" style="stroke-width:2.4;stroke-linejoin:round"/>
<polygon class="ln" points="1034.0,689.8 1028.1,687.4 1022.9,683.9 1032.4,675.7" style="stroke-width:2.4;stroke-linejoin:round"/>
<polygon class="ln" points="1020.9,682.7 1017.2,680.3 1024.3,669.5 1031.1,674.4" style="stroke-width:2.4;stroke-linejoin:round"/>
<polygon class="ln" points="1016.1,678.9 1011.2,675.1 1007.1,670.2 1018.4,664.9" style="stroke-width:2.4;stroke-linejoin:round"/>
<polygon class="ln" points="1005.5,668.6 1002.6,665.3 1012.3,656.8 1017.6,663.3" style="stroke-width:2.4;stroke-linejoin:round"/>
<polygon class="ln" points="1001.9,663.7 998.2,658.6 995.5,652.9 1007.9,650.8" style="stroke-width:2.4;stroke-linejoin:round"/>
<polygon class="ln" points="994.4,650.8 992.5,646.9 1004.1,641.3 1007.5,649.0" style="stroke-width:2.4;stroke-linejoin:round"/>
<polygon class="ln" points="992.3,645.2 990.1,639.3 989.1,633.0 1001.5,634.4" style="stroke-width:2.4;stroke-linejoin:round"/>
<polygon class="ln" points="988.6,630.8 987.8,626.4 1000.5,624.2 1001.6,632.6" style="stroke-width:2.4;stroke-linejoin:round"/>
<polygon class="ln" points="988.1,624.7 987.5,618.4 988.2,612.2 999.8,616.8" style="stroke-width:2.4;stroke-linejoin:round"/>
<polygon class="ln" points="988.4,609.9 988.8,605.5 1001.6,606.8 1000.4,615.1" style="stroke-width:2.4;stroke-linejoin:round"/>
<polygon class="ln" points="989.5,603.9 990.6,597.7 993.0,591.9 1003.0,599.5" style="stroke-width:2.4;stroke-linejoin:round"/>
<polygon class="ln" points="993.8,589.7 995.4,585.6 1007.3,590.3 1004.0,598.0" style="stroke-width:2.4;stroke-linejoin:round"/>
<polygon class="ln" points="996.5,584.3 999.3,578.6 1003.1,573.6 1010.6,583.6" style="stroke-width:2.4;stroke-linejoin:round"/>
<polygon class="ln" points="1004.4,571.7 1007.1,568.2 1017.3,575.9 1012.1,582.5" style="stroke-width:2.4;stroke-linejoin:round"/>
<polygon class="ln" points="1008.5,567.2 1012.7,562.5 1017.8,558.8 1022.3,570.4" style="stroke-width:2.4;stroke-linejoin:round"/>
<polygon class="ln" points="1019.6,557.3 1023.1,554.6 1030.8,564.8 1024.0,569.7" style="stroke-width:2.4;stroke-linejoin:round"/>
<polygon class="ln" points="1024.7,554.0 1030.0,550.7 1035.9,548.4 1037.1,560.9" style="stroke-width:2.4;stroke-linejoin:round"/>
<polygon class="ln" points="1038.0,547.5 1042.1,545.8 1046.8,557.8 1038.9,560.6" style="stroke-width:2.4;stroke-linejoin:round"/>
<polygon class="ln" points="1043.8,545.7 1049.9,543.9 1056.1,543.3 1053.9,555.7" style="stroke-width:2.4;stroke-linejoin:round"/>
<polygon class="ln" points="1058.4,543.0 1062.8,542.5 1064.1,555.3 1055.8,555.9" style="stroke-width:2.4;stroke-linejoin:round"/>
<circle class="ln" cx="1064.5" cy="619.5" r="58.8" />
<circle class="ln" cx="1064.5" cy="619.5" r="44.6" />
<circle class="ln" cx="1064.5" cy="619.5" r="38.7" />
<circle class="ln" cx="1064.5" cy="619.5" r="32.2" />
<circle class="ln" cx="1064.5" cy="619.5" r="17.4" />
<circle class="ln" cx="1064.5" cy="619.5" r="11.5" />
<circle class="dk" cx="1064.5" cy="595.6" r="4.0" />
<circle class="dk" cx="1064.5" cy="595.6" r="1.7" style="fill:#777"/>
<circle class="dk" cx="1081.4" cy="602.6" r="4.0" />
<circle class="dk" cx="1081.4" cy="602.6" r="1.7" style="fill:#777"/>
<circle class="dk" cx="1088.4" cy="619.5" r="4.0" />
<circle class="dk" cx="1088.4" cy="619.5" r="1.7" style="fill:#777"/>
<circle class="dk" cx="1081.4" cy="636.4" r="4.0" />
<circle class="dk" cx="1081.4" cy="636.4" r="1.7" style="fill:#777"/>
<circle class="dk" cx="1064.5" cy="643.4" r="4.0" />
<circle class="dk" cx="1064.5" cy="643.4" r="1.7" style="fill:#777"/>
<circle class="dk" cx="1047.6" cy="636.4" r="4.0" />
<circle class="dk" cx="1047.6" cy="636.4" r="1.7" style="fill:#777"/>
<circle class="dk" cx="1040.6" cy="619.5" r="4.0" />
<circle class="dk" cx="1040.6" cy="619.5" r="1.7" style="fill:#777"/>
<circle class="dk" cx="1047.6" cy="602.6" r="4.0" />
<circle class="dk" cx="1047.6" cy="602.6" r="1.7" style="fill:#777"/>
<path class="ln" d="M935.8,416 L935.8,402 C936,394 940,391 945.8,390.5 L948.3,397 C944,398 942.3,400 942.3,404 L942.3,416 Z" style="stroke-width:1.8"/>
<rect class="dk" x="932.3" y="414.9" width="13.5" height="133.5" />
<rect class="" x="934.9" y="424.0" width="2.5" height="4.2" fill="#fff"/>
<rect class="" x="934.9" y="434.3" width="2.5" height="4.2" fill="#fff"/>
<rect class="" x="934.9" y="444.6" width="2.5" height="4.2" fill="#fff"/>
<rect class="" x="934.9" y="454.9" width="2.5" height="4.2" fill="#fff"/>
<rect class="" x="934.9" y="465.2" width="2.5" height="4.2" fill="#fff"/>
<rect class="" x="934.9" y="475.5" width="2.5" height="4.2" fill="#fff"/>
<rect class="" x="934.9" y="485.8" width="2.5" height="4.2" fill="#fff"/>
<rect class="" x="934.9" y="496.1" width="2.5" height="4.2" fill="#fff"/>
<rect class="" x="934.9" y="506.4" width="2.5" height="4.2" fill="#fff"/>
<rect class="" x="934.9" y="516.7" width="2.5" height="4.2" fill="#fff"/>
<rect class="" x="934.9" y="527.0" width="2.5" height="4.2" fill="#fff"/>
<rect class="" x="934.9" y="537.3" width="2.5" height="4.2" fill="#fff"/>
<path class="dk" d="M932.5,530 Q926.5,534 926.5,541 Q927,548 932.5,549 Z" />
<circle class="" cx="930.6" cy="540.5" r="1.6" fill="#fff"/>
<rect class="dk" x="935.4" y="550.5" width="21.3" height="27.0" />
<rect class="dk" x="931.8" y="576.5" width="35.5" height="6.0" />
<polyline class="lo" points="956.7,567.7 967.3,567.7" style="stroke-width:3.4"/>
<rect class="dk" x="931.8" y="603.8" width="35.5" height="5.9" />
<rect class="dk" x="911.7" y="618.0" width="55.6" height="7.2" />
<path class="ln" d="M769.6,414 L769.6,409 Q769.6,396.2 783,396.2 L850,396.2 C885,397 912,402 917.4,411.6 L917.4,414 Z" />
<path class="lo" d="M769.6,407.9 L893,407.9 Q906,408.6 913.5,412.5" />
<polyline class="lo" points="769.8,409.0 769.8,471.0" style="stroke-width:2.8"/>
<rect class="dk" x="769.6" y="412.8" width="143.0" height="6.9" />
<rect class="dk" x="779.0" y="419.0" width="8.5" height="50.5" />
<rect class="dk" x="790.3" y="419.0" width="5.6" height="48.0" />
<polyline class="lo" points="771.2,452.5 823.9,438.4" />
<polyline class="lo" points="840.1,434.8 906.0,478.6" />
<polygon class="dk" points="823.9,419.0 840.1,419.0 840.1,487.0 831.7,479.6 823.9,460.6" />
<rect class="dk" x="840.0" y="420.8" width="64.0" height="5.1" />
<polyline class="lo" points="847.1,425.0 847.1,502.0" style="stroke-width:2.8"/>
<polygon class="dk" points="901.5,419.0 912.0,419.0 921.2,520.0 921.2,622.0 911.7,622.0 911.7,520.0" />
<rect class="dk" x="913.4" y="414.4" width="7.0" height="13.9" />
<rect class="" x="915.7" y="415.6" width="2.2" height="5.0" fill="#fff"/>
<path class="lo" d="M915.4,428.3 L923,470 L925.2,496 L925.2,621.5" style="stroke-width:1.6"/>
<polyline class="lo" points="927.6,497.0 927.6,621.5" style="stroke-width:1.4"/>
<polyline class="lo" points="925.0,497.0 946.0,497.0" style="stroke-width:1.6"/>
<rect class="dk" x="888.0" y="485.4" width="19.0" height="3.8" />
<rect class="dk" x="896.3" y="489.0" width="4.7" height="25.0" />
<path class="lo" d="M854.7,502 L880.4,502 L880.4,512.5 L873.5,512.5 L873.5,538 " />
<polyline class="lo" points="854.7,507.5 873.0,507.5" />
<rect class="dk" x="873.8" y="537.5" width="38.0" height="7.1" />
<rect class="dk" x="873.3" y="640.2" width="44.9" height="5.6" />
<rect class="dk" x="876.8" y="591.3" width="37.9" height="49.0" />
<path class="" d="M880.3,595.3 L911.2,595.3 Q910.5,601.9 901,602.1 L890.5,602.1 Q881,601.9 880.3,595.3 Z" fill="#fff"/>
<path class="" d="M880.3,608.8 L911.2,608.8 Q910.5,615.4 901,615.6 L890.5,615.6 Q881,615.4 880.3,608.8 Z" fill="#fff"/>
<path class="" d="M880.3,622.7 L911.2,622.7 Q910.5,629.3 901,629.5 L890.5,629.5 Q881,629.3 880.3,622.7 Z" fill="#fff"/>
<rect class="" x="881.6" y="634.0" width="28.2" height="6.2" fill="#fff"/>
<polyline class="lo" points="897.4,514.0 897.4,590.0" style="stroke-width:1.3"/>
<polyline class="lo" points="900.2,514.0 900.2,590.0" style="stroke-width:1.3"/>
<polygon class="ln" points="715.7,483.0 822.0,459.6 909.3,588.4 880.0,591.0 760.0,560.0 722.4,495.4" />
<rect class="ln" x="736.0" y="485.0" width="15.5" height="10.4" />
<rect class="lo" x="740.3" y="488.7" width="7.9" height="6.7" style="stroke-width:2"/>
<g clip-path="url(#clipArch)">
<circle class="ln" cx="781.0" cy="606.5" r="104.0" />
<circle class="ln" cx="781.0" cy="606.5" r="97.3" />
</g>
<circle class="ln" cx="781.0" cy="606.5" r="89.0" style="stroke:none"/>
<polygon class="ln" points="781.0,517.9 788.0,517.8 794.9,519.0 788.9,531.7" style="stroke-width:2.4;stroke-linejoin:round"/>
<polygon class="ln" points="797.4,519.3 802.2,520.1 799.9,534.3 790.7,532.5" style="stroke-width:2.4;stroke-linejoin:round"/>
<polygon class="ln" points="803.9,520.9 810.7,522.6 817.0,525.6 807.9,536.3" style="stroke-width:2.4;stroke-linejoin:round"/>
<polygon class="ln" points="819.4,526.5 823.9,528.5 818.0,541.7 809.5,537.6" style="stroke-width:2.4;stroke-linejoin:round"/>
<polygon class="ln" points="825.3,529.8 831.4,533.2 836.7,537.7 825.2,545.7" style="stroke-width:2.4;stroke-linejoin:round"/>
<polygon class="ln" points="838.8,539.2 842.6,542.3 833.5,553.5 826.4,547.3" style="stroke-width:2.4;stroke-linejoin:round"/>
<polygon class="ln" points="843.6,543.9 848.7,548.7 852.7,554.4 839.4,559.2" style="stroke-width:2.4;stroke-linejoin:round"/>
<polygon class="ln" points="854.2,556.4 857.1,560.4 845.4,568.9 840.2,561.1" style="stroke-width:2.4;stroke-linejoin:round"/>
<polygon class="ln" points="857.7,562.2 861.3,568.2 863.7,574.8 849.7,575.9" style="stroke-width:2.4;stroke-linejoin:round"/>
<polygon class="ln" points="864.7,577.1 866.5,581.7 853.0,586.8 849.9,578.0" style="stroke-width:2.4;stroke-linejoin:round"/>
<polygon class="ln" points="866.6,583.6 868.5,590.3 869.1,597.2 855.3,594.7" style="stroke-width:2.4;stroke-linejoin:round"/>
<polygon class="ln" points="869.5,599.8 870.0,604.6 855.6,606.1 855.0,596.8" style="stroke-width:2.4;stroke-linejoin:round"/>
<polygon class="ln" points="869.6,606.5 869.7,613.5 868.5,620.4 855.8,614.4" style="stroke-width:2.4;stroke-linejoin:round"/>
<polygon class="ln" points="868.2,622.9 867.4,627.7 853.2,625.4 855.0,616.2" style="stroke-width:2.4;stroke-linejoin:round"/>
<polygon class="ln" points="866.6,629.4 864.9,636.2 861.9,642.5 851.2,633.4" style="stroke-width:2.4;stroke-linejoin:round"/>
<polygon class="ln" points="861.0,644.9 859.0,649.4 845.8,643.5 849.9,635.0" style="stroke-width:2.4;stroke-linejoin:round"/>
<polygon class="ln" points="857.7,650.8 854.3,656.9 849.8,662.2 841.8,650.7" style="stroke-width:2.4;stroke-linejoin:round"/>
<polygon class="ln" points="848.3,664.3 845.2,668.1 834.0,659.0 840.2,651.9" style="stroke-width:2.4;stroke-linejoin:round"/>
<polygon class="ln" points="843.6,669.1 838.8,674.2 833.1,678.2 828.3,664.9" style="stroke-width:2.4;stroke-linejoin:round"/>
<polygon class="ln" points="831.1,679.7 827.1,682.6 818.6,670.9 826.4,665.7" style="stroke-width:2.4;stroke-linejoin:round"/>
<polygon class="ln" points="825.3,683.2 819.3,686.8 812.7,689.2 811.6,675.2" style="stroke-width:2.4;stroke-linejoin:round"/>
<polygon class="ln" points="810.4,690.2 805.8,692.0 800.7,678.5 809.5,675.4" style="stroke-width:2.4;stroke-linejoin:round"/>
<polygon class="ln" points="803.9,692.1 797.2,694.0 790.3,694.6 792.8,680.8" style="stroke-width:2.4;stroke-linejoin:round"/>
<polygon class="ln" points="787.7,695.0 782.9,695.5 781.4,681.1 790.7,680.5" style="stroke-width:2.4;stroke-linejoin:round"/>
<polygon class="ln" points="781.0,695.1 774.0,695.2 767.1,694.0 773.1,681.3" style="stroke-width:2.4;stroke-linejoin:round"/>
<polygon class="ln" points="764.6,693.7 759.8,692.9 762.1,678.7 771.3,680.5" style="stroke-width:2.4;stroke-linejoin:round"/>
<polygon class="ln" points="758.1,692.1 751.3,690.4 745.0,687.4 754.1,676.7" style="stroke-width:2.4;stroke-linejoin:round"/>
<polygon class="ln" points="742.6,686.5 738.1,684.5 744.0,671.3 752.5,675.4" style="stroke-width:2.4;stroke-linejoin:round"/>
<polygon class="ln" points="736.7,683.2 730.6,679.8 725.3,675.3 736.8,667.3" style="stroke-width:2.4;stroke-linejoin:round"/>
<polygon class="ln" points="723.2,673.8 719.4,670.7 728.5,659.5 735.6,665.7" style="stroke-width:2.4;stroke-linejoin:round"/>
<polygon class="ln" points="718.4,669.1 713.3,664.3 709.3,658.6 722.6,653.8" style="stroke-width:2.4;stroke-linejoin:round"/>
<polygon class="ln" points="707.8,656.6 704.9,652.6 716.6,644.1 721.8,651.9" style="stroke-width:2.4;stroke-linejoin:round"/>
<polygon class="ln" points="704.3,650.8 700.7,644.8 698.3,638.2 712.3,637.1" style="stroke-width:2.4;stroke-linejoin:round"/>
<polygon class="ln" points="697.3,635.9 695.5,631.3 709.0,626.2 712.1,635.0" style="stroke-width:2.4;stroke-linejoin:round"/>
<polygon class="ln" points="695.4,629.4 693.5,622.7 692.9,615.8 706.7,618.3" style="stroke-width:2.4;stroke-linejoin:round"/>
<polygon class="ln" points="692.5,613.2 692.0,608.4 706.4,606.9 707.0,616.2" style="stroke-width:2.4;stroke-linejoin:round"/>
<polygon class="ln" points="692.4,606.5 692.3,599.5 693.5,592.6 706.2,598.6" style="stroke-width:2.4;stroke-linejoin:round"/>
<polygon class="ln" points="693.8,590.1 694.6,585.3 708.8,587.6 707.0,596.8" style="stroke-width:2.4;stroke-linejoin:round"/>
<polygon class="ln" points="695.4,583.6 697.1,576.8 700.1,570.5 710.8,579.6" style="stroke-width:2.4;stroke-linejoin:round"/>
<polygon class="ln" points="701.0,568.1 703.0,563.6 716.2,569.5 712.1,578.0" style="stroke-width:2.4;stroke-linejoin:round"/>
<polygon class="ln" points="704.3,562.2 707.7,556.1 712.2,550.8 720.2,562.3" style="stroke-width:2.4;stroke-linejoin:round"/>
<polygon class="ln" points="713.7,548.7 716.8,544.9 728.0,554.0 721.8,561.1" style="stroke-width:2.4;stroke-linejoin:round"/>
<polygon class="ln" points="718.4,543.9 723.2,538.8 728.9,534.8 733.7,548.1" style="stroke-width:2.4;stroke-linejoin:round"/>
<polygon class="ln" points="730.9,533.3 734.9,530.4 743.4,542.1 735.6,547.3" style="stroke-width:2.4;stroke-linejoin:round"/>
<polygon class="ln" points="736.7,529.8 742.7,526.2 749.3,523.8 750.4,537.8" style="stroke-width:2.4;stroke-linejoin:round"/>
<polygon class="ln" points="751.6,522.8 756.2,521.0 761.3,534.5 752.5,537.6" style="stroke-width:2.4;stroke-linejoin:round"/>
<polygon class="ln" points="758.1,520.9 764.8,519.0 771.7,518.4 769.2,532.2" style="stroke-width:2.4;stroke-linejoin:round"/>
<polygon class="ln" points="774.3,518.0 779.1,517.5 780.6,531.9 771.3,532.5" style="stroke-width:2.4;stroke-linejoin:round"/>
<circle class="ln" cx="781.0" cy="606.5" r="65.4" />
<circle class="ln" cx="781.0" cy="606.5" r="52.3" />
<circle class="ln" cx="781.0" cy="606.5" r="45.5" />
<circle class="ln" cx="781.0" cy="606.5" r="38.0" />
<circle class="ln" cx="781.0" cy="606.5" r="20.5" />
<circle class="ln" cx="781.0" cy="606.5" r="12.8" />
<circle class="dk" cx="781.0" cy="579.0" r="4.6" />
<circle class="dk" cx="781.0" cy="579.0" r="1.9" style="fill:#777"/>
<circle class="dk" cx="800.4" cy="587.1" r="4.6" />
<circle class="dk" cx="800.4" cy="587.1" r="1.9" style="fill:#777"/>
<circle class="dk" cx="808.5" cy="606.5" r="4.6" />
<circle class="dk" cx="808.5" cy="606.5" r="1.9" style="fill:#777"/>
<circle class="dk" cx="800.4" cy="625.9" r="4.6" />
<circle class="dk" cx="800.4" cy="625.9" r="1.9" style="fill:#777"/>
<circle class="dk" cx="781.0" cy="634.0" r="4.6" />
<circle class="dk" cx="781.0" cy="634.0" r="1.9" style="fill:#777"/>
<circle class="dk" cx="761.6" cy="625.9" r="4.6" />
<circle class="dk" cx="761.6" cy="625.9" r="1.9" style="fill:#777"/>
<circle class="dk" cx="753.5" cy="606.5" r="4.6" />
<circle class="dk" cx="753.5" cy="606.5" r="1.9" style="fill:#777"/>
<circle class="dk" cx="761.6" cy="587.1" r="4.6" />
<circle class="dk" cx="761.6" cy="587.1" r="1.9" style="fill:#777"/>
<path class="lo" d="M434.5,531 Q443,525.5 453,523.4" />
<circle class="ln" cx="470.0" cy="628.0" r="98.7" />
<path class="lo" d="M600.2,524.4 A39.5,39.5 0 0 1 622.3,537.6" />
<path class="lo" d="M631.1,568.5 A39.5,39.5 0 0 1 614.7,595.4" />
<path class="ln" d="M536.5,522.4 A131.0,131.0 0 0 1 619.1,602.2 L606.9,606.6 A118.0,118.0 0 0 0 532.5,534.8 Z" />
<path class="ln" d="M532.2,535.7 A117.0,117.0 0 0 1 609.3,617.7 L591.8,622.2 A99.0,99.0 0 0 0 526.6,552.8 Z" />
<circle class="ln" cx="496.0" cy="647.0" r="98.7" />
<circle class="ln" cx="496.0" cy="647.3" r="18.8" />
<polyline class="lo" points="350.0,567.0 405.0,544.7" />
<polygon class="ln" points="128.8,659.0 121.3,743.5 128.8,755.0 209.5,756.0 200.0,753.5 193.3,716.0 161.0,735.5 150.0,700.0" />
<polyline class="lo" points="161.0,735.5 200.0,753.5" />
<polygon class="ln" points="160.5,555.0 191.0,546.5 196.5,564.5 185.0,568.0 189.5,578.5 181.0,604.0" />
<polygon class="ln" points="133.2,614.8 179.0,601.2 181.0,616.0 173.0,623.8" />
<polyline class="lo" points="165.5,619.3 180.0,615.5" />
<rect class="ln" x="185.0" y="495.5" width="284.5" height="28.0" />
<polygon class="ln" points="185.0,495.5 251.0,489.6 349.0,489.6 413.5,499.3 185.0,500.0" />
<circle class="ln" cx="275.3" cy="614.4" r="93.0" />
<circle class="ln" cx="270.5" cy="647.5" r="94.5" />
<circle class="ln" cx="223.5" cy="629.5" r="30.8" />
<circle class="ln" cx="300.0" cy="614.5" r="30.8" />
<circle class="ln" cx="280.0" cy="692.0" r="31.0" />
<line class="bk" x1="330.5" y1="308" x2="330.5" y2="540"/>
<polygon class="ln" points="106.7,600.5 139.2,591.5 145.2,610.2 133.2,614.8 158.8,677.8 343.8,600.6 352.0,612.0 314.4,623.8 154.2,721.5" style="stroke:none"/>
<polyline class="lo" points="155.0,722.0 106.7,600.5 139.2,591.5 145.2,610.2 133.2,614.8 158.8,677.8 345.0,600.1" />
<polygon class="ln" points="308.0,652.8 238.0,684.2 324.0,628.3" />
<polygon class="ln" points="122.0,742.2 314.4,623.8 319.4,631.2 128.8,755.0" />
<polygon class="ln" points="383.6,615.3 558.6,545.3 546.6,515.2 385.0,580.0 368.0,602.0" />
<rect class="ln" x="469.5" y="321.4" width="110.0" height="215.8" />
<circle class="ln" cx="525.7" cy="391.3" r="26.6" />
<circle class="ln" cx="493.7" cy="493.0" r="7.3" />
<circle class="ln" cx="493.7" cy="516.9" r="7.3" />
<polyline class="lo" points="489.4,498.5 489.4,511.5" />
<polyline class="lo" points="498.0,498.5 498.0,511.5" />
<circle class="ln" cx="558.5" cy="493.0" r="7.3" />
<circle class="ln" cx="558.5" cy="516.9" r="7.3" />
<polyline class="lo" points="554.2,498.5 554.2,511.5" />
<polyline class="lo" points="562.8,498.5 562.8,511.5" />
<polygon class="ln" points="360.9,597.2 475.4,452.2 489.9,463.6 375.3,608.6" />
<path class="ln" d="M472.1,449.6 L504.9,408.1 A13.45,13.45 0 0 1 526,424.8 L493.2,466.3 Z" />
<polyline class="lo" points="504.9,408.1 526.0,424.8" />
<polygon class="ln" points="352.6,590.6 383.6,615.3 334.2,677.3 303.6,655.6" />
<circle class="" cx="159.4" cy="592.0" r="17.0" fill="#e08e1c"/>
<circle class="" cx="330.5" cy="652.2" r="17.0" fill="#e08e1c"/>
<rect class="ln" x="621.0" y="461.5" width="21.5" height="34.5" />
<polyline class="lo" points="621.0,493.3 642.5,493.3" />
<rect class="ln" x="606.0" y="450.5" width="48.5" height="11.0" />
<rect class="ln" x="623.8" y="523.0" width="15.9" height="44.5" />
<rect class="ln" x="579.5" y="495.8" width="174.5" height="27.5" />
<rect class="ln" x="661.4" y="472.5" width="16.6" height="14.0" />
<rect class="ln" x="661.4" y="532.0" width="16.0" height="33.0" />
<rect class="ln" x="646.6" y="486.2" width="49.0" height="46.0" />
<circle class="ln" cx="654.2" cy="493.6" r="7.4" />
<circle class="ln" cx="654.2" cy="525.0" r="7.4" />
<circle class="ln" cx="687.6" cy="493.6" r="7.4" />
<circle class="ln" cx="687.6" cy="525.0" r="7.4" />
<circle class="ln" cx="669.0" cy="603.3" r="39.8" />
</g>
<!-- labels -->
<g fill="none" stroke="#cacaca" stroke-width="5.2" stroke-linecap="round"><circle cx="248.9" cy="140.3" r="4" fill="#cacaca" stroke="none"/><path d="M256.8,132.7 A11.0,11.0 0 0 1 256.8,147.9"/><path d="M266.4,126.1 A22.5,22.5 0 0 1 266.4,154.5"/><path d="M277.0,119.5 A35.0,35.0 0 0 1 277.0,161.1"/></g>
<g fill="none" stroke="#cacaca" stroke-width="5.2" stroke-linecap="round"><circle cx="425.0" cy="141.0" r="4" fill="#cacaca" stroke="none"/><path d="M432.9,133.4 A11.0,11.0 0 0 1 432.9,148.6"/><path d="M442.5,126.8 A22.5,22.5 0 0 1 442.5,155.2"/><path d="M453.1,120.2 A35.0,35.0 0 0 1 453.1,161.8"/></g>
<g fill="none" stroke="#cacaca" stroke-width="5.2" stroke-linecap="round"><circle cx="600.0" cy="140.5" r="4" fill="#cacaca" stroke="none"/><path d="M607.9,132.9 A11.0,11.0 0 0 1 607.9,148.1"/><path d="M617.5,126.3 A22.5,22.5 0 0 1 617.5,154.7"/><path d="M628.1,119.7 A35.0,35.0 0 0 1 628.1,161.3"/></g>
<g fill="none" stroke="#cacaca" stroke-width="5.2" stroke-linecap="round" transform="translate(1635.2,0) scale(-1,1)"><circle cx="817.6" cy="167.8" r="4" fill="#cacaca" stroke="none"/><path d="M825.5,160.2 A11.0,11.0 0 0 1 825.5,175.4"/><path d="M835.1,153.6 A22.5,22.5 0 0 1 835.1,182.0"/><path d="M845.7,147.0 A35.0,35.0 0 0 1 845.7,188.6"/></g>
<path class="bk" d="M68.7,309 H727"/>
<path class="bk" d="M989.8,329 V448.2 H804"/>
<circle cx="788.9" cy="448.3" r="15.8" fill="#8dc21f"/>
<text x="186" y="292" font-size="24.3" fill="#231f20">HDW897</text>
<text x="487.2" y="292" font-size="24.3" fill="#231f20">HDW873</text>
<text x="644.2" y="293" font-size="24.3" fill="#231f20">HDW871</text>
<text x="1001.2" y="385.3" font-size="24.3" fill="#231f20">HDW295Q</text>
<text x="511.5" y="603" font-size="38.5" font-weight="bold" fill="#000" fill-opacity="0.075" textLength="193" lengthAdjust="spacingAndGlyphs">STONKAM</text>
<text x="705" y="585" font-size="9" font-weight="bold" fill="#000" fill-opacity="0.075">®</text>
</svg>
</body></html>
